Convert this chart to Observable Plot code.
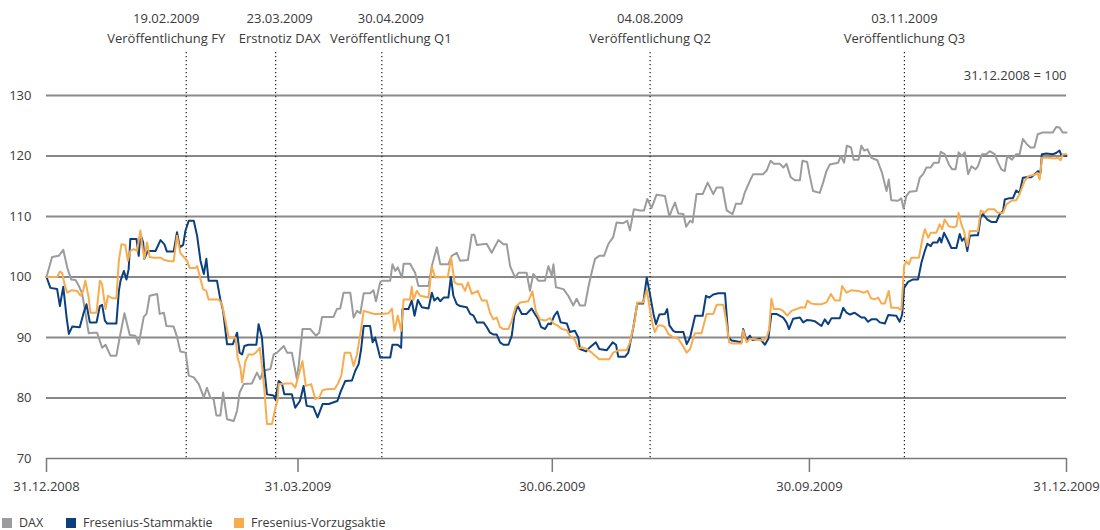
<!DOCTYPE html>
<html>
<head>
<meta charset="utf-8">
<script src="https://cdn.jsdelivr.net/npm/d3@7"></script>
<script src="https://cdn.jsdelivr.net/npm/@observablehq/plot@0.6"></script>
<style>
  body { margin: 0; background: #fff; font-family: "Open Sans", sans-serif; }
  #legend { position: relative; height: 25px; font-size: 12.5px; line-height: 13px; color: #3a3a3a; }
  #legend .sw { width: 10px; height: 10px; display: inline-block; margin-right: 7px; }
  #legend .it { position: absolute; top: 11px; display: flex; align-items: center; }
</style>
</head>
<body>
<div id="chart"></div>
<div id="legend"></div>
<script>
// ---- data (days since 31.12.2008, index 31.12.2008 = 100) ----
const seriesNames = ["DAX", "Fresenius-Stammaktie", "Fresenius-Vorzugsaktie"];
const seriesColors = ["#9c9c9e", "#0b3f7e", "#f8ac4e"];

const daxDays = [0,2,4.4,6,7.4,8.8,10.4,11.6,12.8,13.9,15.1,16.9,18.1,19.9,21.1,22.9,25,26.2,27.9,29.8,31.8,33,34.8,35.8,36.9,39.6,40.5,42,42.9,45.5,46.7,47.9,49.8,50.9,52.7,54.5,56.3,57.4,58.6,59.8,60.8,62.2,63.2,64,64.6,67,68.2,69.1,70.6,73.5,75.3,76.5,77.5,80.1,81.3,82.5,84.9,86.1,87.8,89.6,90.3,91.6,94.4,96.4,97.6,98.6,102.7,103.9,105.1,106.3,108.7,109.9,111.1,112.3,113.5,115.8,117,117.9,119.4,120,123,123.8,124.8,125.7,127.2,127.8,130.1,131.9,133.1,136.7,137.9,139.7,140.9,143.8,145,146.8,148,150.8,152.2,153.1,154,157.5,159.3,161.7,163.5,164.7,165.9,167.7,168.9,171.8,173,174.2,176,178.4,179.6,180.8,181.4,182.3,185,186.7,188.5,189.7,190.9,192.7,193.9,195.1,196.3,197.8,199.5,201.1,202.8,204,206.4,207.8,208.8,210.2,212.4,213.8,215,216.5,218.3,221.3,222.9,223.7,224.9,226.1,227.9,228.9,230.3,231.2,232.6,234.8,236.6,238.6,239.8,241.9,243.4,245.5,246.7,248.7,249.9,251.7,252.9,256.5,257.7,259.1,260.3,262.4,263.7,264.8,266.3,267.8,269.6,270.5,272.2,273,274.3,276.7,277.9,279.1,280.3,283.3,284.2,285.4,286.4,287.9,288.8,290.6,291.6,292.6,293.8,295.2,297.3,299,300.6,301.4,302.3,304.7,305.9,306.7,307.7,308.9,311.3,312.5,313.7,314.9,316.4,317.6,319.3,320,321.4,322.9,324.1,325.3,326.4,327.6,328.6,329.8,331,332.4,333.3,334.8,336.3,337.5,339.3,340.5,341.7,342.9,343.8,345.5,347,348.2,349.4,350.9,352.1,353.5,354.7,356.6,360.1,361.3,362.5,363.6,365];
const daxValues = [100,103.3,103.5,104.5,101.6,99.6,99.5,98.5,97.2,94.1,90.7,90.8,90.8,88.3,88.8,87,87,90,94,90.4,90.3,88.9,93.4,93.9,96.9,97.2,93.9,94.1,91.9,91.8,90.1,87.7,87.5,83.7,83.4,82.3,80.1,81.7,80.1,79.8,77.1,77.1,80.9,78.4,76.5,76.2,77.9,80.9,82.3,82.4,84.2,83.1,84.5,84.8,87.2,87.5,88.6,87.5,87.5,83.1,85.6,91.4,91.4,90.3,90.8,93.4,93.4,94.7,94.8,97.4,97.4,93.3,94.4,94,97.3,97.3,97.8,96,99.1,99.4,99.4,102.1,101,101.6,99.9,102.2,102.2,100.7,98.5,98.5,101.8,104.9,102.1,102.1,103.5,104,102.7,102.8,107,107,105.3,105.5,104,106.1,105.4,105.4,101.8,99.9,100.7,100.7,97.7,100.5,99.4,99.4,101.8,100.2,102.1,98.3,98,96.9,95.3,96.4,95.3,95.3,98.3,100.8,103,103.5,103.5,105.5,106.6,109,108.9,109.3,107.7,111.2,111,111,112.9,111.4,113.6,113.4,110,111,112.3,110.5,110.4,108.3,109.3,109,113.7,113.7,115.6,113.7,114.8,114.8,111,110.4,112.1,112.1,114,115.9,117,117,117.6,119.2,118.7,118.7,118.1,118.7,116.5,116,116,119.2,119,117,114.2,113.9,115.6,117.5,118.6,118.9,120,118.9,121.7,121.4,119.4,119.4,121.7,120.9,121.1,119.7,119.3,117.2,114.2,116.1,112.7,112.6,113,111.3,113.4,114.1,114.2,116.4,117,118.1,118.1,118.9,118.9,120.7,120.3,118.6,117.8,117.8,120.6,120,120.6,117,118.3,117.8,118.3,120.3,120.3,120.8,120.3,118.9,117.8,117.5,120,119.4,120.3,120.3,122.8,121.9,121.4,121.4,123.6,123.9,123.9,124.8,124.7,123.9,123.9];

const stammDays = [0,1.4,3.8,4.8,6,7.2,8,9.2,11.9,13.3,14.3,15.5,17.9,19.1,19.9,20.9,21.7,25,25.9,26.5,27.7,28.6,29.4,30,32.2,33,33.6,34.6,35,36.2,39,40.8,42.2,43.1,45.5,46.7,47.7,48.9,49.7,50.9,52.7,53.9,55.1,56.3,57.2,58,61,62.2,63.2,64.6,66.7,68.2,69.1,70,70.8,72.3,75.1,75.9,77.1,77.9,78.9,81.3,81.9,83.1,84.3,85.1,87.8,89,90.7,92,93.1,95.5,97,98.8,101,104.1,105.3,106.9,109.3,110.5,111.7,112.6,113.5,115.8,116.7,117.6,119.4,123,123.8,125.7,126.9,127.4,129.5,130.7,131.7,132.9,134.3,136.7,137.9,138.8,140,140.9,142.1,143.8,144.7,145.6,146.8,148,150.4,151.6,152.8,154,156.4,157.6,158.7,159.9,161.1,162.3,163.5,165.3,166.5,167.4,168.6,170.1,171.8,173.6,174.8,176,177,178.4,179.6,180.5,181.7,182.8,184,186.2,187.3,189.1,190.3,190.9,193.1,194.5,196.6,197.8,200.5,202.6,203.8,204.6,207,208.2,210,211.4,213.5,214.8,215.8,217.2,218.1,219.3,221.3,222.1,222.9,224.3,225.2,227.9,229.1,230.3,232.1,234.8,236,237.2,238.6,240.4,242.8,244,245.2,248.7,249.3,250.5,251.7,252.6,255.3,257.1,258.3,259.4,261.2,263.6,264.8,265.7,267.2,269.6,270.8,272.2,273.7,274.9,277.3,278.5,279.7,280.9,283.9,285.1,286.3,287.5,289.2,290.4,291.6,292.8,294,295.2,297,298.2,300,301.2,304.1,305.3,306.2,306.9,308.3,310.1,311.9,313.1,314.3,315.2,316.4,317.2,318.8,319.6,320.2,321.2,322.4,323.8,325.6,326.8,327.6,328.6,329.5,330.4,332.1,333.3,334.3,335.1,336.7,338.1,339.9,341.1,342.3,342.9,344.3,345.8,347,348.2,349.4,350.6,352.4,353.6,354.8,355.7,356.2,357.8,360.1,361.3,362.5,363.1,365];
const stammValues = [100,98.2,98,95.2,98.4,93.3,90.6,91.8,91.7,94.1,95.5,92.5,92.5,95.2,95.4,92.8,92.3,92.3,97.7,99.4,101,99.6,101.3,106.3,106.3,103.5,107.1,105.7,103,104.3,104.3,106.1,105.4,104.2,104.2,107.4,104.9,105.3,107.6,109.3,109.3,106.8,102.7,100.5,103,99.4,99.4,96.3,94.4,88.9,88.9,90.8,87.5,87.2,88.6,88.8,88.8,92.2,90,85,80.6,80.4,79.8,82.8,82.3,80.6,80.6,78.4,79.5,82,78.7,78.5,76.8,79,79,79.5,81.1,82.8,82.9,84.5,85.6,88.1,91.9,91.9,89.2,90,86.7,86.7,88.8,88.8,88.3,94.7,94.7,96.1,93.6,96.2,95,94.8,97.4,96.1,96.6,96,96.6,96.6,100,96.9,95.5,95.2,95,93.9,93.6,92.5,92.5,91.7,90.8,90.5,90.5,89.2,88.8,88.8,90.3,93.6,95.2,93.9,93.9,94.8,93.9,93,91.7,91.4,92.3,92.2,93.6,94.3,92.5,92.3,90.9,91.1,90,88.1,87.7,88.4,89.2,88.1,87.9,89.2,88.8,86.8,86.8,87.5,91.7,95.6,95.6,99.9,97.5,93.9,92.2,93.8,93.9,94.7,92,91.1,90.9,90.9,88.9,90,93.6,93.6,96.9,96.6,97.1,97.3,97.3,90,89.5,89.2,91.4,89.5,90.3,89.6,89.8,88.8,89.8,93.9,93.9,93.3,92.5,91.4,93.1,93.3,92.5,92.9,92.8,92.7,91.9,93,92.2,93.2,93.2,94.9,94.1,93.8,94.1,93.7,93.3,93.3,92.6,93,93,92.5,92.3,93.7,93.6,92.6,93.8,98.2,99.2,99.6,99.6,102.4,104.3,105.5,105.1,105.7,105.7,106.5,105.7,107.3,106.2,104.8,104.8,107.1,106,106.5,104.3,106.8,106.9,106.9,109.9,110.4,109.5,109.1,109.1,110.4,110.9,112.8,113,113,114.3,113.9,116.4,116.5,116.5,117,117.5,117.2,120.3,120.4,120.3,120.5,120.9,120.2,120];

const vorzugDays = [0,3.8,4.8,5.6,6.4,7.4,8.8,11,12.2,13.1,13.9,15.1,15.7,17.9,19.1,19.9,21.1,22,23.5,25,25.9,26.8,28.2,29.1,30,31.2,32.4,33.6,34.2,35,36,36.9,38.4,40.8,42.2,44.1,45.5,46.7,47.9,49.1,50.3,51.2,53.3,53.9,54.8,56,57.2,58,61.6,62.8,64,65.2,67.6,68.4,69.4,70,71.2,72.3,74.1,75.3,76.3,77.1,77.9,78.9,80.7,81.9,82.7,83.1,83.9,86.1,87.8,89,90.2,91.6,92.8,94.7,96.2,97.6,98.8,100.9,103.1,104.3,105.5,106.7,108.7,109.9,111.1,112.3,113.5,115.8,117,120,122.4,123.6,124.5,125.7,126.9,127.8,130.1,130.7,131.3,132.5,133.7,136.7,137.9,139.1,141.5,143.6,144.8,146,147.2,148.6,149.8,150.8,152.2,154.3,155.8,157.5,158.7,159.9,161.1,162.3,163.5,165.3,166.5,167.9,169.5,172.4,173.9,175.1,176.6,178.4,180.2,181.4,182.8,184.4,186.2,187.3,189.1,190.3,191.5,193.3,195.1,196.3,197.8,201.4,202.8,204.6,207.6,208.8,210.6,211.4,213.5,214.8,216,216.9,217.7,218.9,220.1,221.3,222.5,224.3,226.1,227.6,229.1,230.3,232,234.4,236.2,238.6,239.8,242.2,243.1,244.3,245.5,248.7,249.3,250.5,251.7,256.5,257.7,258.6,259.4,260.3,262.4,263.6,265,266.6,268.4,270,271.4,272.3,273.7,275.5,277.3,279.1,280.7,282.1,283.9,284.7,286.3,288,290.4,292.6,293.8,295,296.4,297.6,298.8,300,301.4,302.3,304.7,305.9,306.9,307.7,308.6,309.5,312.2,313.4,314.3,315.5,316.4,318.4,319.6,320.5,321.4,322.9,324.8,325.6,326.4,327.4,328.3,329.5,330.4,333.3,334.3,335.7,336.9,339.2,340.4,342.3,343.5,345.3,347,348.2,350,351.5,353.6,354.6,355.4,356.2,358.3,360.7,362.1,362.9,363.7,365];
const vorzugValues = [100,100,100.9,100.7,98.9,97.4,97.8,97.7,96.9,97.7,99.4,96.6,94.1,94.1,99.4,98.8,94.7,96.9,96.5,96.5,102.7,105.4,105.3,102.7,104.3,104.6,104.3,107.7,105.4,103,105.7,103.3,103.2,103.2,102.8,102.6,102.6,106.8,104,103.3,102.7,101.5,101.5,101.8,100.2,98,97.7,96.3,96.3,95.5,92.8,90,90,86.7,85,82.6,86.1,87.2,87.2,87.7,88.3,85.3,81.7,75.7,75.7,78.4,79.6,82.3,82.3,82.4,82.4,81.7,83.7,86.1,82,82.3,79.8,80.1,81.3,81.5,81.5,82.4,83.7,87.5,87.5,85.3,87.2,90.6,94.4,94.1,93.9,93.9,94,94.8,91.1,93.6,91.1,96.3,96.3,98.4,96.2,97.7,96.9,96.6,101.7,99.9,100,100,103.2,99.1,98.8,98.8,97.7,99.1,97.2,97.7,96.1,96.1,94.1,93,93.3,91.7,91.4,91.4,92.8,95.1,95.8,96,97.6,94.4,93,92.8,93.2,92.3,92,91.4,91.2,90.3,89.6,88.1,88.4,88.1,87.5,87,86.4,86.4,87.5,87.9,87.9,89.2,93.1,95.8,95.8,97.9,94.4,92.2,90.9,92,92,91.7,90.6,90,89.8,88.7,87.5,88.1,90.7,90.7,93.9,93.9,95.4,95.4,93.1,89.2,89,89,91.2,89.2,89.8,89.5,90,91.4,96.4,94.7,94.7,94.4,93.6,94.4,94.7,95,94.9,96.1,95.6,95.5,95.5,95.8,97.2,96.1,96.1,98.5,97.4,97.8,97.7,97.4,97.7,96.5,96.3,96.6,95.6,95.6,97.7,94.9,94.9,94.5,101.8,102.6,102.1,103.2,103.2,106.2,107.9,106.5,107.3,107.3,108.7,107.9,109.5,108.4,108.2,108.4,110.6,108.7,107.6,105.1,107.6,107.6,111,110.6,111.2,111.2,110.6,110.6,112,112.6,112.7,113.7,115.9,116.7,116.9,117.2,116.1,119.7,119.7,119.6,119.7,119.3,120.3,120.3];

const eventDates = ["2009-02-19", "2009-03-23", "2009-04-30", "2009-08-04", "2009-11-03"];
const eventDateLabels = ["19.02.2009", "23.03.2009", "30.04.2009", "04.08.2009", "03.11.2009"];
const eventLabels = ["Veröffentlichung FY", "Erstnotiz DAX", "Veröffentlichung Q1", "Veröffentlichung Q2", "Veröffentlichung Q3"];

const xTickDates = ["2008-12-31", "2009-03-31", "2009-06-30", "2009-09-30", "2009-12-31"];
const yTicks = [70, 80, 90, 100, 110, 120, 130];
const baseNote = "31.12.2008 = 100";

// ---- build ----
const t0 = Date.UTC(2008, 11, 31);
const dayToDate = d => new Date(t0 + d * 864e5);
const parse = d3.utcParse("%Y-%m-%d");
const mk = (days, vals) => days.map((d, i) => ({date: dayToDate(d), value: vals[i]}));
const dax = mk(daxDays, daxValues);
const stamm = mk(stammDays, stammValues);
const vorzug = mk(vorzugDays, vorzugValues);
const events = eventDates.map((d, i) => ({date: parse(d), text: eventDateLabels[i] + "\n" + eventLabels[i]}));
const labelShift = [-20, 4, 9, 0, 0];

const textColor = "#3a3a3a";
const chart = Plot.plot({
  width: 1100,
  height: 505,
  marginLeft: 46,
  marginRight: 34,
  marginTop: 95,
  marginBottom: 47,
  style: {fontFamily: "'Open Sans', sans-serif", fontSize: "13px", background: "#fff", overflow: "visible"},
  x: {type: "utc", domain: [parse(xTickDates[0]), parse(xTickDates[xTickDates.length - 1])]},
  y: {domain: [yTicks[0], yTicks[yTicks.length - 1]]},
  marks: [
    Plot.ruleY(yTicks.filter(v => v > yTicks[0] && (v / 10) % 2 === 1), {stroke: "#8a8a8a", strokeWidth: 2}),
    Plot.ruleY(yTicks.filter(v => v > yTicks[0] && (v / 10) % 2 === 0), {stroke: "#111", strokeWidth: 1}),
    Plot.ruleY([yTicks[0]], {stroke: "#7a7a7a", strokeWidth: 1.5}),
    Plot.axisX({ticks: xTickDates.map(parse), tickFormat: d3.utcFormat("%d.%m.%Y"), tickSize: 14, tickPadding: 9, stroke: "#7a7a7a", strokeWidth: 1.5, fill: textColor, label: null}),
    Plot.axisY({ticks: yTicks, tickSize: 0, tickPadding: 15, fill: textColor, label: null}),
    Plot.ruleX(events, {x: "date", stroke: "#222", strokeWidth: 1.2, strokeDasharray: "1.2,2.8", insetTop: -43, insetBottom: -1}),
    ...events.map((e, i) => Plot.text([e], {x: "date", text: "text", frameAnchor: "top", lineAnchor: "top", dy: -87, dx: labelShift[i], lineHeight: 1.55, fill: textColor})),
    Plot.text([baseNote], {frameAnchor: "top-right", dy: -20, lineAnchor: "middle", fill: textColor}),
    Plot.line(dax, {x: "date", y: "value", stroke: seriesColors[0], strokeWidth: 2}),
    Plot.line(stamm, {x: "date", y: "value", stroke: seriesColors[1], strokeWidth: 2}),
    Plot.line(vorzug, {x: "date", y: "value", stroke: seriesColors[2], strokeWidth: 2})
  ]
});
document.getElementById("chart").appendChild(chart);

const legend = document.getElementById("legend");
const legendLeft = [2, 66, 234];
seriesNames.forEach((n, i) => {
  const it = document.createElement("span");
  it.className = "it";
  it.style.left = legendLeft[i] + "px";
  it.innerHTML = `<span class="sw" style="background:${seriesColors[i]}"></span><span>${n}</span>`;
  legend.appendChild(it);
});
</script>
</body>
</html>
